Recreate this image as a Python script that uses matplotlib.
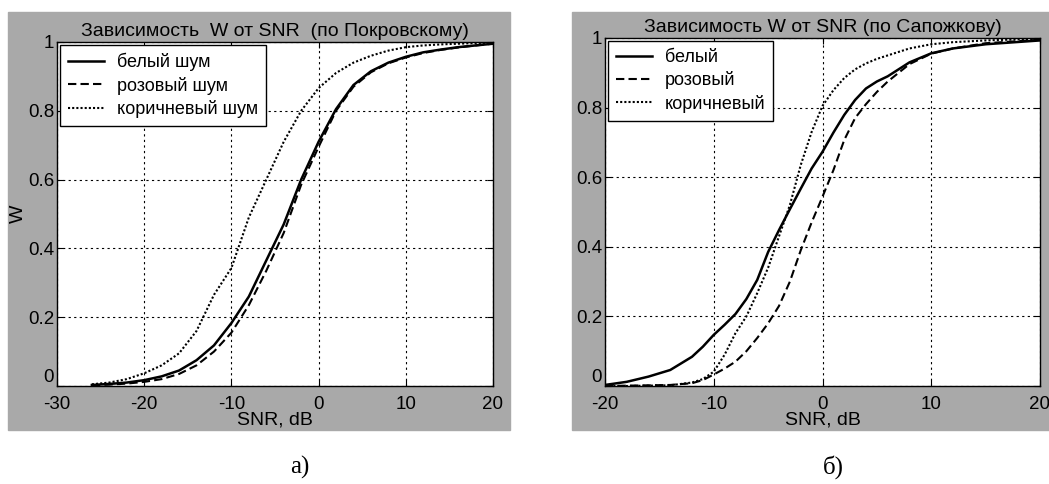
import matplotlib
matplotlib.use('Agg')
import matplotlib.pyplot as plt
from matplotlib.patches import Rectangle
import numpy as np

plt.rcParams['font.family'] = ['Liberation Sans', 'DejaVu Sans']

# --- panel a) (по Покровскому)
snr_a = [-26, -24, -22, -20, -18, -16, -14, -12, -10, -8, -6, -4, -2, 0,
         2, 4, 6, 8, 10, 12, 14, 16, 18, 20]
white_a = [0.003, 0.006, 0.010, 0.017, 0.028, 0.045, 0.075, 0.118, 0.183, 0.260,
           0.365, 0.470, 0.600, 0.710, 0.805, 0.875, 0.915, 0.940, 0.957, 0.970,
           0.978, 0.985, 0.990, 0.995]
pink_a = [0.002, 0.004, 0.007, 0.012, 0.020, 0.035, 0.060, 0.100, 0.155, 0.235,
          0.335, 0.445, 0.585, 0.695, 0.800, 0.870, 0.912, 0.938, 0.955, 0.968,
          0.977, 0.984, 0.990, 0.995]
brown_a = [0.005, 0.010, 0.020, 0.037, 0.060, 0.095, 0.160, 0.265, 0.343, 0.490,
           0.600, 0.710, 0.800, 0.866, 0.910, 0.940, 0.960, 0.975, 0.985, 0.990,
           0.993, 0.995, 0.997, 0.998]

# --- panel б) (по Сапожкову)
snr_b = [-20, -18, -16, -14, -12, -11, -10, -9, -8, -7, -6, -5, -4, -3, -2, -1, 0,
         1, 2, 3, 4, 5, 6, 8, 10, 12, 15, 20]
white_b = [0.003, 0.012, 0.027, 0.046, 0.084, 0.113, 0.147, 0.176, 0.207, 0.250,
           0.305, 0.385, 0.448, 0.508, 0.567, 0.625, 0.673, 0.728, 0.779, 0.822,
           0.855, 0.875, 0.890, 0.930, 0.956, 0.970, 0.982, 0.993]
pink_b = [0.000, 0.001, 0.002, 0.003, 0.008, 0.017, 0.033, 0.050, 0.070, 0.100,
          0.138, 0.180, 0.230, 0.300, 0.390, 0.470, 0.544, 0.620, 0.707, 0.770,
          0.810, 0.845, 0.875, 0.925, 0.955, 0.970, 0.985, 0.995]
brown_b = [0.000, 0.000, 0.001, 0.002, 0.010, 0.020, 0.041, 0.090, 0.152, 0.200,
           0.267, 0.340, 0.430, 0.520, 0.635, 0.730, 0.805, 0.850, 0.885, 0.910,
           0.927, 0.940, 0.950, 0.970, 0.982, 0.988, 0.993, 0.998]

yticks = [0, 0.2, 0.4, 0.6, 0.8, 1]
ytick_labels = ['0', '0.2', '0.4', '0.6', '0.8', '1']
xticks_a = [-30, -20, -10, 0, 10, 20]
xticks_b = [-20, -10, 0, 10, 20]

fig = plt.figure(figsize=(10.49, 4.84), dpi=100)
W, H = 1049.0, 484.0
gray = '#a9a9a9'

# gray matlab-like figure backgrounds
fig.patches.append(Rectangle((8 / W, 1 - 430 / H), 502 / W, 418 / H,
                             transform=fig.transFigure, color=gray, zorder=-10))
fig.patches.append(Rectangle((572 / W, 1 - 430 / H), 480 / W, 418 / H,
                             transform=fig.transFigure, color=gray, zorder=-10))


def setup(ax, xlim, xticks, title, labels, series, x):
	styles = [dict(ls='-', lw=1.8), dict(ls=(0, (4, 2)), lw=1.5), dict(ls=(0, (1, 1)), lw=1.5)]
	for y, lab, st in zip(series, labels, styles):
		ax.plot(x, y, color='black', label=lab, **st)
	ax.set_xlim(xlim)
	ax.set_ylim(0, 1)
	ax.set_xticks(xticks)
	ax.set_xticklabels([str(t) for t in xticks])
	ax.set_yticks(yticks)
	ax.set_yticklabels(ytick_labels)
	ax.tick_params(direction='in', length=4, labelsize=13.5, top=True, right=True)
	ax.tick_params(axis='x', pad=7)
	ax.tick_params(axis='y', pad=2)
	# lift the "0" label a little so it sits just above the x tick labels
	ax.get_yticklabels()[0].set_verticalalignment('bottom')
	ax.grid(True, color='black', ls=(0, (2, 3)), lw=0.8)
	for s in ax.spines.values():
		s.set_linewidth(1.0)
	ax.set_title(title, fontsize=14, pad=4)
	ax.set_xlabel('SNR, dB', fontsize=14, labelpad=-1)
	leg = ax.legend(loc='upper left', fontsize=13, frameon=True, fancybox=False,
	                edgecolor='black', handlelength=2.0, handletextpad=0.7,
	                borderaxespad=0.15, borderpad=0.45, labelspacing=0.3, framealpha=1)
	leg.get_frame().set_linewidth(1.0)


ax1 = fig.add_axes([57 / W, 1 - 386 / H, 436 / W, 344 / H])
setup(ax1, (-30, 20), xticks_a, 'Зависимость  W от SNR  (по Покровскому)',
      ['белый шум', 'розовый шум', 'коричневый шум'], [white_a, pink_a, brown_a], snr_a)
ax1.set_ylabel('W', fontsize=14, labelpad=1)

ax2 = fig.add_axes([605 / W, 1 - 386 / H, 435 / W, 348 / H])
setup(ax2, (-20, 20), xticks_b, 'Зависимость W от SNR (по Сапожкову)',
      ['белый', 'розовый', 'коричневый'], [white_b, pink_b, brown_b], snr_b)

fig.text(300 / W, 1 - 467 / H, 'а)', family='Liberation Serif', fontsize=18, ha='center', va='center')
fig.text(833 / W, 1 - 467 / H, 'б)', family='Liberation Serif', fontsize=18, ha='center', va='center')

fig.savefig('out.png', dpi=100)
